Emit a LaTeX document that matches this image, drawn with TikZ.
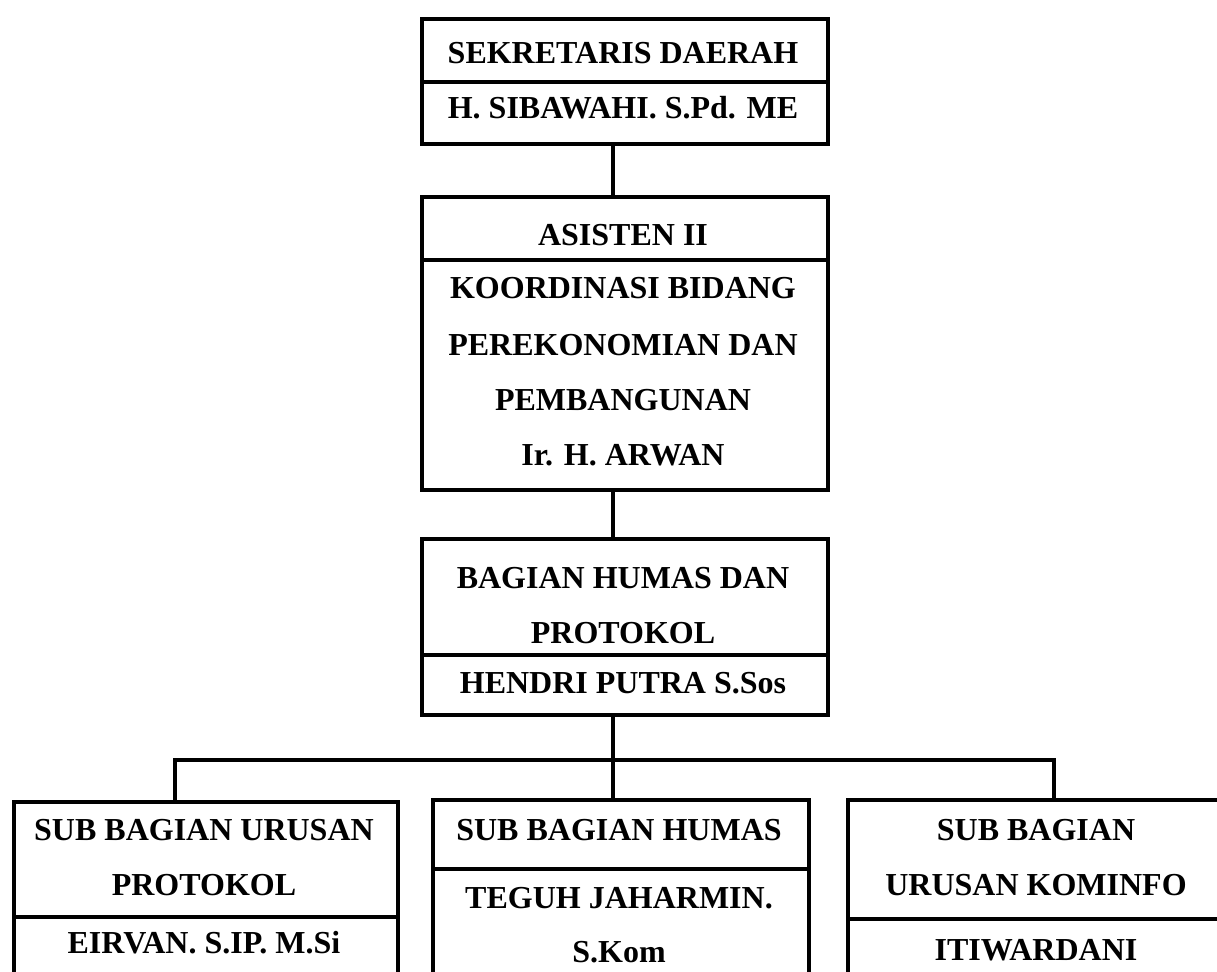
\documentclass[tikz,border=0pt]{standalone}
\usepackage{fontspec}
\setmainfont{Liberation Serif}
\begin{document}
\begin{tikzpicture}[x=1pt,y=-1pt,
  box/.style={draw, line width=4pt, rectangle, inner sep=0pt, anchor=north west},
  lbl/.style={anchor=base, inner sep=0pt, font=\fontsize{32}{38}\selectfont\bfseries},
  link/.style={line width=4pt}]
\useasboundingbox (0,0) rectangle (1217,971);
\clip (0,0) rectangle (1217,971);
% boxes
\node[box, minimum width=406pt, minimum height=63pt] (sekA) at (420,17) {};
\node[box, minimum width=406pt, minimum height=62pt] (sekB) at (420,80) {};
\node[box, minimum width=406pt, minimum height=63pt] (asiA) at (420,195) {};
\node[box, minimum width=406pt, minimum height=230pt] (asiB) at (420,258) {};
\node[box, minimum width=406pt, minimum height=116pt] (bagA) at (420,537) {};
\node[box, minimum width=406pt, minimum height=60pt] (bagB) at (420,653) {};
\node[box, minimum width=384pt, minimum height=115pt] (lA) at (12,800) {};
\node[box, minimum width=384pt, minimum height=100pt] (lB) at (12,915) {};
\node[box, minimum width=376pt, minimum height=69pt] (mA) at (431,798) {};
\node[box, minimum width=376pt, minimum height=150pt] (mB) at (431,867) {};
\node[box, minimum width=380pt, minimum height=119pt] (rA) at (846,798) {};
\node[box, minimum width=380pt, minimum height=100pt] (rB) at (846,917) {};
% texts
\node[lbl] (t1) at (623,64) {SEKRETARIS DAERAH};
\node[lbl] (t2) at (623,119) {H. SIBAWAHI. S.Pd. ME};
\node[lbl] (t3) at (623,245) {ASISTEN II};
\node[lbl] (t4) at (623,298) {KOORDINASI BIDANG};
\node[lbl] (t5) at (623,355) {PEREKONOMIAN DAN};
\node[lbl] (t6) at (623,410) {PEMBANGUNAN};
\node[lbl] (t7) at (623,465) {Ir. H. ARWAN};
\node[lbl] (t8) at (623,588) {BAGIAN HUMAS DAN};
\node[lbl] (t9) at (623,643) {PROTOKOL};
\node[lbl] (t10) at (623,693) {HENDRI PUTRA S.Sos};
\node[lbl] (t11) at (204,840) {SUB BAGIAN URUSAN};
\node[lbl] (t12) at (204,895) {PROTOKOL};
\node[lbl] (t13) at (204,953) {EIRVAN. S.IP. M.Si};
\node[lbl] (t14) at (619,840) {SUB BAGIAN HUMAS};
\node[lbl] (t15) at (619,908) {TEGUH JAHARMIN.};
\node[lbl] (t16) at (619,962) {S.Kom};
\node[lbl] (t17) at (1036,840) {SUB BAGIAN};
\node[lbl] (t18) at (1036,895) {URUSAN KOMINFO};
\node[lbl] (t19) at (1036,960) {ITIWARDANI};
% connectors
\coordinate (cx) at (613,0);
\coordinate (lx) at (175,0);
\coordinate (rx) at (1054,0);
\coordinate (bus) at (0,760);
\draw[link] (sekB.south -| cx) -- (asiA.north -| cx);
\draw[link] (asiB.south -| cx) -- (bagA.north -| cx);
\draw[link] (bagB.south -| cx) -- (mA.north -| cx);
\draw[link] (lA.north -| lx) |- (bus -| rx) -- (rA.north -| rx);
\end{tikzpicture}
\end{document}
